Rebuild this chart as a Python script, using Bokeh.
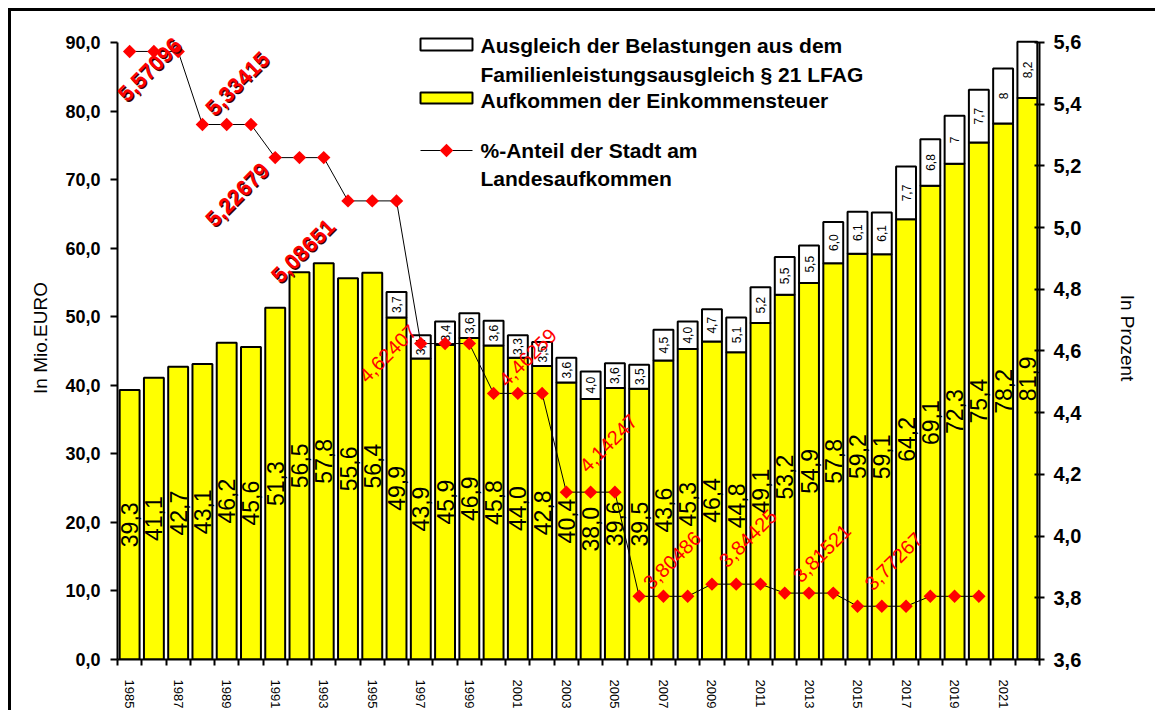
import math
from bokeh.plotting import figure
from bokeh.models import Range1d, LinearAxis, FixedTicker, CustomJSTickFormatter, ColumnDataSource, Label
from bokeh.embed import file_html
from bokeh.resources import INLINE
from bokeh.core.properties import value

# ---------------- data ----------------
years = list(range(1985, 2023))
einkommensteuer = [39.3, 41.1, 42.7, 43.1, 46.2, 45.6, 51.3, 56.5, 57.8, 55.6,
                   56.4, 49.9, 43.9, 45.9, 46.9, 45.8, 44.0, 42.8, 40.4, 38.0,
                   39.6, 39.5, 43.6, 45.3, 46.4, 44.8, 49.1, 53.2, 54.9, 57.8,
                   59.2, 59.1, 64.2, 69.1, 72.3, 75.4, 78.2, 81.9]
ausgleich_years = list(range(1996, 2023))
ausgleich = [3.7, 3.4, 3.4, 3.6, 3.6, 3.3, 3.5, 3.6, 4.0, 3.6, 3.5, 4.5, 4.0, 4.7,
             5.1, 5.2, 5.5, 5.5, 6.0, 6.1, 6.1, 7.7, 6.8, 7, 7.7, 8, 8.2]
pct_years = list(range(1985, 2021))
anteil = [5.57096, 5.57096, 5.57096, 5.33415, 5.33415, 5.33415,
          5.22679, 5.22679, 5.22679, 5.08651, 5.08651, 5.08651,
          4.62407, 4.62407, 4.62407, 4.46259, 4.46259, 4.46259,
          4.14247, 4.14247, 4.14247, 3.80486, 3.80486, 3.80486,
          3.84425, 3.84425, 3.84425, 3.81521, 3.81521, 3.81521,
          3.77267, 3.77267, 3.77267, 3.80486, 3.80486, 3.80486]
anteil_label_years = [1985, 1988, 1991, 1994, 1997, 2000, 2003, 2006, 2009, 2012, 2015]
anteil_labels = ["5,57096", "5,33415", "5,22679", "5,08651", "4,62407", "4,46259",
                 "4,14247", "3,80486", "3,84425", "3,81521", "3,77267"]
left_ticks = [0, 10, 20, 30, 40, 50, 60, 70, 80, 90]
right_ticks = [3.6, 3.8, 4.0, 4.2, 4.4, 4.6, 4.8, 5.0, 5.2, 5.4, 5.6]

legend_white = ["Ausgleich der Belastungen aus dem", "Familienleistungsausgleich § 21 LFAG"]
legend_yellow = "Aufkommen der Einkommensteuer"
legend_line = ["%-Anteil der Stadt am", "Landesaufkommen"]

FONT = value("Liberation Sans")

# ---------------- layout ----------------
OFF = 11                       # page offset of the canvas (8px margin + 3px border)
W, H = 1147, 702
ML, MR, MT, MB = 106, 119, 5, 54
frame_w = W - ML - MR
frame_h = H - MT - MB
x0, x1 = 1984.5, 2022.5
y_top = 93.79
px_per_year = frame_w / (x1 - x0)
px_per_unit = frame_h / y_top
pct_lo = 3.6
pct_hi = pct_lo + y_top * 2.0 / 90.0
px_per_pct = frame_h / (pct_hi - pct_lo)
FRAME_LEFT = OFF + ML
FRAME_BOTTOM = OFF + MT + frame_h

p = figure(width=W, height=H, output_backend="svg", toolbar_location=None,
           x_range=Range1d(x0, x1), y_range=Range1d(0, y_top),
           min_border_left=ML, min_border_right=MR, min_border_top=MT, min_border_bottom=MB,
           outline_line_color=None, background_fill_color="white", border_fill_color="white")
p.styles = {"margin-left": "8px", "margin-top": "8px",
            "border-top": "3px solid black", "border-left": "3px solid black"}
p.extra_y_ranges = {"pct": Range1d(pct_lo, pct_hi)}
p.xgrid.visible = False
p.ygrid.visible = False

# bars
bw = 0.82
src_y = ColumnDataSource(dict(x=years, top=einkommensteuer,
                              mid=[v / 2 for v in einkommensteuer],
                              lab=[f"{v:.1f}".replace(".", ",") for v in einkommensteuer]))
p.vbar(x="x", top="top", bottom=0, width=bw, source=src_y,
       fill_color="#FFFF00", line_color="black", line_width=2)

base = {y: v for y, v in zip(years, einkommensteuer)}
src_w = ColumnDataSource(dict(x=ausgleich_years,
                              bottom=[base[y] for y in ausgleich_years],
                              top=[base[y] + v for y, v in zip(ausgleich_years, ausgleich)],
                              mid=[base[y] + v / 2 for y, v in zip(ausgleich_years, ausgleich)],
                              lab=[str(v).replace(".", ",") for v in ausgleich]))
p.vbar(x="x", top="top", bottom="bottom", width=bw, source=src_w,
       fill_color="white", line_color="black", line_width=2)

p.text(x="x", y="mid", text="lab", source=src_y, angle=math.pi / 2,
       text_font=FONT, text_font_size="23px", text_color="black",
       text_align="center", text_baseline="middle")
p.text(x="x", y="mid", text="lab", source=src_w, angle=math.pi / 2,
       text_font=FONT, text_font_size="12px", text_color="black",
       text_align="center", text_baseline="middle")

# percentage line
p.line(pct_years, anteil, y_range_name="pct", line_color="black", line_width=1)
p.scatter(pct_years, anteil, y_range_name="pct", marker="square", size=9.5,
          angle=math.pi / 4, fill_color="#FF0000", line_color=None)

# data labels of the percentage line (pixel offsets from the first point of each step)
label_offsets = [(20, 18), (35, -41), (-38, 37), (-45, 50), (-33, 10), (34, -36),
                 (42, -49), (33, -36), (36, -46), (37, -40), (36, -45)]
pv = {y: v for y, v in zip(pct_years, anteil)}
for i, (yr, txt, (dx, dy)) in enumerate(zip(anteil_label_years, anteil_labels, label_offsets)):
    lx = yr + dx / px_per_year
    ly = pv[yr] - dy / px_per_pct
    if i < 4:
        p.add_layout(Label(x=lx + 1.3 / px_per_year, y=ly - 1.3 / px_per_pct, y_range_name="pct",
                           text=txt, angle=math.pi / 4, text_font="Liberation Sans",
                           text_font_size="22px", text_font_style="bold", text_color="#3a0000",
                           text_align="center", text_baseline="middle"))
        p.add_layout(Label(x=lx, y=ly, y_range_name="pct",
                           text=txt, angle=math.pi / 4, text_font="Liberation Sans",
                           text_font_size="22px", text_font_style="bold", text_color="#FF0000",
                           text_align="center", text_baseline="middle"))
    else:
        p.add_layout(Label(x=lx, y=ly, y_range_name="pct",
                           text=txt, angle=math.pi / 4, text_font="Liberation Sans",
                           text_font_size="20px", text_color="#FF0000",
                           text_align="center", text_baseline="middle"))

# legend (drawn in plot space, page pixels converted)
def X(px):
    return x0 + (px - FRAME_LEFT) / px_per_year
def Y(py):
    return (FRAME_BOTTOM - py) / px_per_unit

p.quad(left=[X(420)], right=[X(472)], top=[Y(38)], bottom=[Y(50)],
       fill_color="white", line_color="black", line_width=2)
p.quad(left=[X(420)], right=[X(472)], top=[Y(92)], bottom=[Y(103)],
       fill_color="#FFFF00", line_color="black", line_width=2)
p.line([X(420), X(472)], [Y(150), Y(150)], line_color="black", line_width=1)
p.scatter([X(446)], [Y(150)], marker="square", size=9.5, angle=math.pi / 4,
          fill_color="#FF0000", line_color=None)
p.text(x=[X(480)] * 5, y=[Y(45), Y(74), Y(100), Y(150), Y(178)],
       text=[legend_white[0], legend_white[1], legend_yellow, legend_line[0], legend_line[1]],
       text_font=FONT, text_font_size="21px", text_font_style="bold", text_color="black",
       text_align="left", text_baseline="middle")

# axes
xa = p.xaxis[0]
xa.ticker = FixedTicker(ticks=years, minor_ticks=[y + 0.5 for y in [1984] + years])
xa.formatter = CustomJSTickFormatter(code="var t = Math.round(tick); return (t % 2 == 1) ? String(t) : '';")
xa.major_tick_out = 0
xa.major_tick_in = 0
xa.minor_tick_out = 6
xa.minor_tick_in = 0
xa.minor_tick_line_width = 2
xa.axis_line_width = 2
xa.major_label_orientation = "vertical"
xa.major_label_text_font = "Liberation Sans"
xa.major_label_text_font_size = "13px"
xa.major_label_text_color = "black"
xa.major_label_standoff = 14

ya = p.yaxis[0]
ya.bounds = (0, 90)
ya.ticker = FixedTicker(ticks=left_ticks, minor_ticks=[])
ya.formatter = CustomJSTickFormatter(code="return tick.toFixed(1).replace('.', ',');")
ya.major_tick_out = 7
ya.major_tick_in = 0
ya.major_tick_line_width = 2
ya.axis_line_width = 2
ya.major_label_text_font = "Liberation Sans"
ya.major_label_text_font_size = "18px"
ya.major_label_text_font_style = "bold"
ya.major_label_text_color = "black"
ya.major_label_standoff = 10
ya.axis_label = "In Mio.EURO"
ya.axis_label_text_font = "Liberation Sans"
ya.axis_label_text_font_size = "19px"
ya.axis_label_text_font_style = "normal"
ya.axis_label_text_color = "black"
ya.axis_label_standoff = 11

ra = LinearAxis(y_range_name="pct")
ra.bounds = (3.6, 5.6)
ra.ticker = FixedTicker(ticks=right_ticks, minor_ticks=[])
ra.formatter = CustomJSTickFormatter(code="return tick.toFixed(1).replace('.', ',');")
ra.major_tick_out = 5
ra.major_tick_in = 5
ra.major_tick_line_width = 2
ra.axis_line_width = 2
ra.major_label_text_font = "Liberation Sans"
ra.major_label_text_font_size = "20px"
ra.major_label_text_font_style = "bold"
ra.major_label_text_color = "black"
ra.major_label_standoff = 9
ra.axis_label = "In Prozent"
ra.axis_label_text_font = "Liberation Sans"
ra.axis_label_text_font_size = "19px"
ra.axis_label_text_font_style = "normal"
ra.axis_label_text_color = "black"
ra.axis_label_standoff = 33
p.add_layout(ra, "right")

open("out.html", "w").write(file_html(p, INLINE))
